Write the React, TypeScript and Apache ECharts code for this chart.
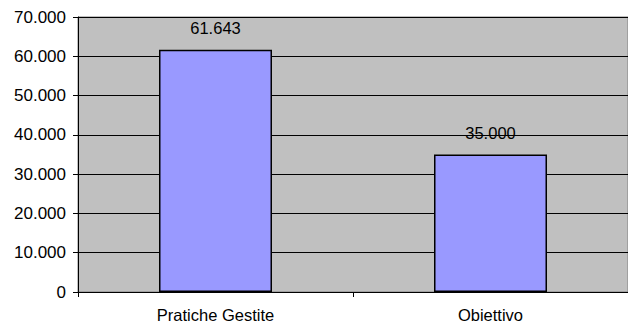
import React, { useEffect, useRef } from "react";
import * as echarts from "echarts";

const categories = ["Pratiche Gestite", "Obiettivo"];
const values = [61643, 35000];
const yTicks = { min: 0, max: 70000, interval: 10000 };

function fmt(v: number): string {
  const s = Math.round(v).toString();
  return s.replace(/\B(?=(\d{3})+(?!\d))/g, ".");
}

export default function App() {
  const ref = useRef<HTMLDivElement>(null);
  useEffect(() => {
    if (!ref.current) return;
    const chart = echarts.init(ref.current, null, { renderer: "svg" });
    const font = "Liberation Sans, Arial, sans-serif";
    chart.setOption({
      animation: false,
      backgroundColor: "#ffffff",
      grid: {
        left: 78,
        top: 17,
        width: 554,
        height: 275,
        show: true,
        backgroundColor: "#C0C0C0",
        borderColor: "#808080",
        borderWidth: 1,
      },
      xAxis: {
        type: "category",
        data: categories,
        boundaryGap: true,
        axisLine: { show: true, lineStyle: { color: "#000", width: 1 } },
        axisTick: { show: true, alignWithLabel: false, length: 5, lineStyle: { color: "#000" } },
        axisLabel: { color: "#000", fontFamily: font, fontSize: 16.5, margin: 14 },
        splitLine: { show: false },
      },
      yAxis: {
        type: "value",
        min: yTicks.min,
        max: yTicks.max,
        interval: yTicks.interval,
        axisLine: { show: true, lineStyle: { color: "#000", width: 1 } },
        axisTick: { show: true, length: 5, lineStyle: { color: "#000" } },
        axisLabel: {
          color: "#000",
          fontFamily: font,
          fontSize: 17,
          margin: 12,
          formatter: (v: number) => fmt(v),
        },
        splitLine: { show: true, lineStyle: { color: "#000", width: 1 } },
      },
      series: [
        {
          type: "bar",
          data: values,
          barWidth: 113,
          itemStyle: { color: "#9999FF", borderColor: "#000", borderWidth: 1.5 },
          label: {
            show: true,
            position: "top",
            distance: 13,
            color: "#000",
            fontFamily: font,
            fontSize: 16.5,
            formatter: (p: any) => fmt(p.value),
          },
        },
      ],
    });
    return () => chart.dispose();
  }, []);
  return (
    <div
      ref={ref}
      style={{ position: "absolute", left: 0, top: 0, width: 628, height: 324 }}
    />
  );
}
